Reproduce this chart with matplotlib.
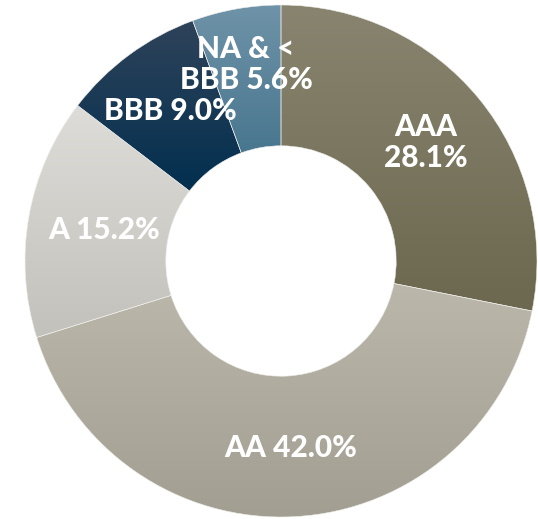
import numpy as np
import matplotlib.pyplot as plt
from matplotlib.colors import LinearSegmentedColormap

plt.rcParams["font.family"] = ["Lato", "DejaVu Sans"]

labels = ["AAA\n28.1%", "AA 42.0%", "A 15.2%", "BBB 9.0%", "NA & <\nBBB 5.6%"]
shares = [28.1, 42.0, 15.2, 9.0, 5.6]
top_colors = ["#88846f", "#bbb7ab", "#dddcd8", "#2f435a", "#6f93a8"]
bottom_colors = ["#6c684f", "#a29e92", "#c3c1bb", "#022f4f", "#48768f"]
label_radius = [0.73, 0.73, 0.70, 0.73, 0.78]

fig = plt.figure(figsize=(5.38, 5.19), dpi=100)
ax = fig.add_axes([0, 0, 1, 1])

wedges, _ = ax.pie(
    shares,
    startangle=90,
    counterclock=False,
    radius=1,
    wedgeprops=dict(width=0.55, edgecolor="#eeeeea", linewidth=0.4),
)

grad = np.linspace(0, 1, 256).reshape(-1, 1)
for w, c0, c1 in zip(wedges, top_colors, bottom_colors):
    bb = w.get_path().get_extents()
    cmap = LinearSegmentedColormap.from_list("g", [c0, c1])
    im = ax.imshow(
        grad,
        cmap=cmap,
        extent=[bb.x0, bb.x1, bb.y0, bb.y1],
        origin="upper",
        aspect="auto",
        interpolation="bilinear",
        zorder=1,
    )
    im.set_clip_path(w)
    w.set_facecolor("none")
    w.set_zorder(2)

total = sum(shares)
start = 90.0
for lab, s, r in zip(labels, shares, label_radius):
    mid = np.deg2rad(start - s / total * 360 / 2)
    start -= s / total * 360
    ax.text(r * np.cos(mid), r * np.sin(mid), lab, ha="center", va="center",
            color="white", fontsize=21.5, fontweight="black", zorder=3,
            linespacing=1.15)

ax.set_aspect("equal")
ax.set_xlim(-281 / 256, 257 / 256)
ax.set_ylim(-258 / 256, 261 / 256)
ax.axis("off")

fig.savefig("out.png", dpi=100)
